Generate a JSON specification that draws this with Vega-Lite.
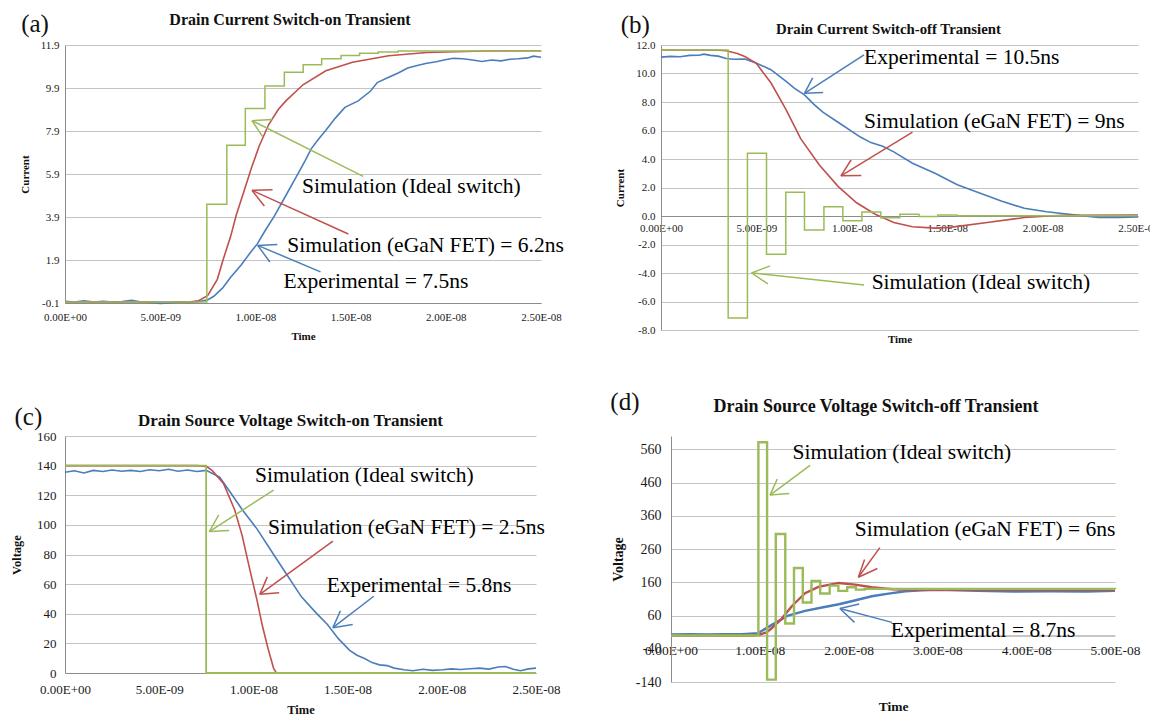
{
"$schema": "https://vega.github.io/schema/vega-lite/v6.json",
"background": "white",
"padding": {"left": 10, "top": 12, "right": 4, "bottom": 4},
"spacing": 46,
"datasets": {
"aL": [
{"s":"Experimental","t":0,"v":-0.02},{"s":"Experimental","t":0.5,"v":-0.05},{"s":"Experimental","t":1,"v":0.0},{"s":"Experimental","t":1.5,"v":-0.06},{"s":"Experimental","t":2,"v":-0.02},{"s":"Experimental","t":2.5,"v":-0.06},{"s":"Experimental","t":3,"v":-0.03},{"s":"Experimental","t":3.5,"v":0.02},{"s":"Experimental","t":4,"v":-0.05},{"s":"Experimental","t":4.5,"v":-0.08},{"s":"Experimental","t":5,"v":-0.12},{"s":"Experimental","t":5.5,"v":-0.1},{"s":"Experimental","t":6,"v":-0.05},{"s":"Experimental","t":6.5,"v":-0.08},{"s":"Experimental","t":7,"v":-0.04},{"s":"Experimental","t":7.5,"v":0.05},{"s":"Experimental","t":7.8,"v":0.2},{"s":"Experimental","t":8.27,"v":0.59},{"s":"Experimental","t":8.7,"v":1.1},{"s":"Experimental","t":9.24,"v":1.66},{"s":"Experimental","t":9.7,"v":2.2},{"s":"Experimental","t":10.1,"v":2.65},{"s":"Experimental","t":10.5,"v":3.25},{"s":"Experimental","t":11.0,"v":3.95},{"s":"Experimental","t":11.6,"v":4.9},{"s":"Experimental","t":12.16,"v":5.79},{"s":"Experimental","t":12.6,"v":6.5},{"s":"Experimental","t":12.94,"v":7.08},{"s":"Experimental","t":13.3,"v":7.5},{"s":"Experimental","t":13.7,"v":7.93},{"s":"Experimental","t":14.2,"v":8.5},{"s":"Experimental","t":14.7,"v":9.0},{"s":"Experimental","t":15.4,"v":9.3},{"s":"Experimental","t":16.05,"v":9.76},{"s":"Experimental","t":16.4,"v":10.15},{"s":"Experimental","t":17.0,"v":10.4},{"s":"Experimental","t":17.5,"v":10.6},{"s":"Experimental","t":18.0,"v":10.83},{"s":"Experimental","t":18.5,"v":10.95},{"s":"Experimental","t":19.0,"v":11.05},{"s":"Experimental","t":19.5,"v":11.12},{"s":"Experimental","t":19.9,"v":11.2},{"s":"Experimental","t":20.4,"v":11.28},{"s":"Experimental","t":20.9,"v":11.26},{"s":"Experimental","t":21.4,"v":11.2},{"s":"Experimental","t":21.9,"v":11.13},{"s":"Experimental","t":22.4,"v":11.2},{"s":"Experimental","t":22.9,"v":11.16},{"s":"Experimental","t":23.4,"v":11.24},{"s":"Experimental","t":23.8,"v":11.26},{"s":"Experimental","t":24.3,"v":11.3},{"s":"Experimental","t":24.6,"v":11.38},{"s":"Experimental","t":25,"v":11.33},
{"s":"eGaN","t":0,"v":-0.05},{"s":"eGaN","t":6.5,"v":-0.05},{"s":"eGaN","t":7.0,"v":0.0},{"s":"eGaN","t":7.5,"v":0.25},{"s":"eGaN","t":8.0,"v":1.0},{"s":"eGaN","t":8.3,"v":1.9},{"s":"eGaN","t":8.7,"v":3.0},{"s":"eGaN","t":9.0,"v":4.0},{"s":"eGaN","t":9.4,"v":5.1},{"s":"eGaN","t":9.8,"v":6.2},{"s":"eGaN","t":10.2,"v":7.2},{"s":"eGaN","t":10.7,"v":8.2},{"s":"eGaN","t":11.2,"v":8.9},{"s":"eGaN","t":11.6,"v":9.3},{"s":"eGaN","t":12.5,"v":10.05},{"s":"eGaN","t":13.7,"v":10.7},{"s":"eGaN","t":15.1,"v":11.1},{"s":"eGaN","t":17,"v":11.4},{"s":"eGaN","t":19,"v":11.55},{"s":"eGaN","t":22,"v":11.62},{"s":"eGaN","t":25,"v":11.63}
],
"aI": [
{"s":"Ideal","t":0,"v":-0.05},{"s":"Ideal","t":7.45,"v":4.49},{"s":"Ideal","t":8.5,"v":7.24},{"s":"Ideal","t":9.47,"v":8.95},{"s":"Ideal","t":10.5,"v":9.99},{"s":"Ideal","t":11.52,"v":10.63},{"s":"Ideal","t":12.51,"v":10.98},{"s":"Ideal","t":13.48,"v":11.26},{"s":"Ideal","t":14.5,"v":11.41},{"s":"Ideal","t":15.47,"v":11.52},{"s":"Ideal","t":16.45,"v":11.58},{"s":"Ideal","t":17.5,"v":11.62},{"s":"Ideal","t":25,"v":11.63}
],
"aR": [
{"s":"Ideal","t":15.66,"v":5.79,"t2":9.82,"v2":8.38},{"s":"Ideal","t":9.82,"v":8.38,"t2":10.9,"v2":8.43},{"s":"Ideal","t":9.82,"v":8.38,"t2":10.37,"v2":7.65},
{"s":"eGaN","t":14.88,"v":3.11,"t2":9.82,"v2":5.14},{"s":"eGaN","t":9.82,"v":5.14,"t2":10.9,"v2":5.17},{"s":"eGaN","t":9.82,"v":5.14,"t2":10.47,"v2":4.41},
{"s":"Experimental","t":13.42,"v":1.35,"t2":10.12,"v2":2.58},{"s":"Experimental","t":10.12,"v":2.58,"t2":11.15,"v2":2.62},{"s":"Experimental","t":10.12,"v":2.58,"t2":10.76,"v2":1.81}
],
"aT": [
{"t":12.45,"v":5.3,"label":"Simulation (Ideal switch)"},{"t":11.67,"v":2.53,"label":"Simulation (eGaN FET) = 6.2ns"},{"t":11.48,"v":0.89,"label":"Experimental = 7.5ns"}
],
"bL": [
{"s":"Experimental","t":0,"v":11.15},{"s":"Experimental","t":0.5,"v":11.2},{"s":"Experimental","t":1.0,"v":11.18},{"s":"Experimental","t":1.5,"v":11.27},{"s":"Experimental","t":2.0,"v":11.28},{"s":"Experimental","t":2.25,"v":11.36},{"s":"Experimental","t":2.6,"v":11.27},{"s":"Experimental","t":3.0,"v":11.22},{"s":"Experimental","t":3.42,"v":11.05},{"s":"Experimental","t":3.8,"v":11.0},{"s":"Experimental","t":4.39,"v":11.02},{"s":"Experimental","t":4.98,"v":10.73},{"s":"Experimental","t":5.76,"v":10.27},{"s":"Experimental","t":6.54,"v":9.46},{"s":"Experimental","t":7.0,"v":8.95},{"s":"Experimental","t":7.52,"v":8.5},{"s":"Experimental","t":8.0,"v":7.85},{"s":"Experimental","t":8.5,"v":7.27},{"s":"Experimental","t":9.28,"v":6.58},{"s":"Experimental","t":10.45,"v":5.54},{"s":"Experimental","t":11.0,"v":5.15},{"s":"Experimental","t":11.62,"v":4.9},{"s":"Experimental","t":12.2,"v":4.5},{"s":"Experimental","t":13.18,"v":3.7},{"s":"Experimental","t":14.36,"v":3.0},{"s":"Experimental","t":15.53,"v":2.2},{"s":"Experimental","t":16.7,"v":1.62},{"s":"Experimental","t":17.87,"v":1.04},{"s":"Experimental","t":19.04,"v":0.54},{"s":"Experimental","t":20.21,"v":0.3},{"s":"Experimental","t":21.39,"v":0.12},{"s":"Experimental","t":22.17,"v":0.0},{"s":"Experimental","t":22.95,"v":-0.11},{"s":"Experimental","t":24.0,"v":-0.1},{"s":"Experimental","t":25,"v":-0.07},
{"s":"eGaN","t":0,"v":11.65},{"s":"eGaN","t":3.0,"v":11.63},{"s":"eGaN","t":3.42,"v":11.6},{"s":"eGaN","t":4.0,"v":11.4},{"s":"eGaN","t":4.39,"v":11.19},{"s":"eGaN","t":4.98,"v":10.73},{"s":"eGaN","t":5.76,"v":9.35},{"s":"eGaN","t":6.54,"v":7.5},{"s":"eGaN","t":7.32,"v":5.43},{"s":"eGaN","t":8.3,"v":3.58},{"s":"eGaN","t":9.28,"v":2.08},{"s":"eGaN","t":10.25,"v":0.93},{"s":"eGaN","t":11.23,"v":0.12},{"s":"eGaN","t":12.2,"v":-0.46},{"s":"eGaN","t":13.18,"v":-0.76},{"s":"eGaN","t":14.36,"v":-0.85},{"s":"eGaN","t":15.14,"v":-0.8},{"s":"eGaN","t":17.1,"v":-0.46},{"s":"eGaN","t":19.04,"v":-0.11},{"s":"eGaN","t":21.0,"v":0.05},{"s":"eGaN","t":25,"v":0.07}
],
"bI": [
{"s":"Ideal","t":0,"v":11.65},{"s":"Ideal","t":3.52,"v":-7.15},{"s":"Ideal","t":4.53,"v":4.4},{"s":"Ideal","t":5.53,"v":-2.69},{"s":"Ideal","t":6.54,"v":1.67},{"s":"Ideal","t":7.52,"v":-0.99},{"s":"Ideal","t":8.54,"v":0.65},{"s":"Ideal","t":9.53,"v":-0.34},{"s":"Ideal","t":10.53,"v":0.28},{"s":"Ideal","t":11.52,"v":-0.13},{"s":"Ideal","t":12.52,"v":0.12},{"s":"Ideal","t":13.52,"v":-0.04},{"s":"Ideal","t":14.51,"v":0.07},{"s":"Ideal","t":15.5,"v":0.02},{"s":"Ideal","t":25,"v":0.02}
],
"bR": [
{"s":"Experimental","t":10.64,"v":11.31,"t2":7.52,"v2":8.61},{"s":"Experimental","t":7.52,"v":8.61,"t2":8.5,"v2":8.66},{"s":"Experimental","t":7.52,"v":8.61,"t2":7.95,"v2":9.69},
{"s":"eGaN","t":13.18,"v":5.89,"t2":9.43,"v2":2.82},{"s":"eGaN","t":9.43,"v":2.82,"t2":10.5,"v2":2.84},{"s":"eGaN","t":9.43,"v":2.82,"t2":9.96,"v2":3.93},
{"s":"Ideal","t":10.64,"v":-4.84,"t2":4.75,"v2":-3.99},{"s":"Ideal","t":4.75,"v":-3.99,"t2":5.72,"v2":-3.5},{"s":"Ideal","t":4.75,"v":-3.99,"t2":5.6,"v2":-4.77}
],
"bT": [
{"t":10.64,"v":11.08,"label":"Experimental = 10.5ns"},{"t":10.64,"v":6.62,"label":"Simulation (eGaN FET) = 9ns"},{"t":11.04,"v":-4.72,"label":"Simulation (Ideal switch)"}
],
"cL": [
{"s":"Experimental","t":0,"v":135.5},{"s":"Experimental","t":0.5,"v":136.5},{"s":"Experimental","t":1,"v":135},{"s":"Experimental","t":1.5,"v":136.8},{"s":"Experimental","t":2,"v":136},{"s":"Experimental","t":2.5,"v":137},{"s":"Experimental","t":3,"v":136.2},{"s":"Experimental","t":3.5,"v":136.8},{"s":"Experimental","t":4,"v":136},{"s":"Experimental","t":4.5,"v":137.2},{"s":"Experimental","t":5,"v":136.5},{"s":"Experimental","t":5.5,"v":137.5},{"s":"Experimental","t":6,"v":136.2},{"s":"Experimental","t":6.5,"v":137},{"s":"Experimental","t":7,"v":136},{"s":"Experimental","t":7.5,"v":136.8},{"s":"Experimental","t":8.21,"v":132.2},{"s":"Experimental","t":8.81,"v":121.3},{"s":"Experimental","t":9.4,"v":110.4},{"s":"Experimental","t":10.19,"v":97.3},{"s":"Experimental","t":10.97,"v":82},{"s":"Experimental","t":11.76,"v":66.7},{"s":"Experimental","t":12.55,"v":51.4},{"s":"Experimental","t":13.34,"v":40.4},{"s":"Experimental","t":13.93,"v":32.8},{"s":"Experimental","t":14.52,"v":23},{"s":"Experimental","t":15.11,"v":15.3},{"s":"Experimental","t":15.5,"v":12},{"s":"Experimental","t":15.9,"v":9.8},{"s":"Experimental","t":16.3,"v":7},{"s":"Experimental","t":16.69,"v":5.5},{"s":"Experimental","t":17.1,"v":5},{"s":"Experimental","t":17.47,"v":3.3},{"s":"Experimental","t":18.0,"v":2.2},{"s":"Experimental","t":18.46,"v":1.5},{"s":"Experimental","t":19.0,"v":2.5},{"s":"Experimental","t":19.5,"v":1.8},{"s":"Experimental","t":20.04,"v":2.2},{"s":"Experimental","t":20.5,"v":2.8},{"s":"Experimental","t":21,"v":2.4},{"s":"Experimental","t":21.5,"v":2.9},{"s":"Experimental","t":22.0,"v":3.3},{"s":"Experimental","t":22.5,"v":2.6},{"s":"Experimental","t":23.0,"v":4.0},{"s":"Experimental","t":23.38,"v":4.4},{"s":"Experimental","t":23.8,"v":2.5},{"s":"Experimental","t":24.17,"v":1.5},{"s":"Experimental","t":24.6,"v":2.8},{"s":"Experimental","t":25,"v":3.3},
{"s":"eGaN","t":0,"v":140},{"s":"eGaN","t":7.0,"v":140},{"s":"eGaN","t":7.5,"v":139.5},{"s":"eGaN","t":7.82,"v":136.6},{"s":"eGaN","t":8.41,"v":127.9},{"s":"eGaN","t":9.0,"v":110.4},{"s":"eGaN","t":9.4,"v":92.9},{"s":"eGaN","t":9.79,"v":71},{"s":"eGaN","t":10.19,"v":49.2},{"s":"eGaN","t":10.48,"v":31.7},{"s":"eGaN","t":10.78,"v":16.4},{"s":"eGaN","t":11.07,"v":3.3},{"s":"eGaN","t":11.21,"v":0.3},{"s":"eGaN","t":11.5,"v":0},{"s":"eGaN","t":25,"v":0}
],
"cI": [
{"s":"Ideal","t":0,"v":140},{"s":"Ideal","t":7.49,"v":0},{"s":"Ideal","t":25,"v":0}
],
"cR": [
{"s":"Ideal","t":11.07,"v":123.5,"t2":7.66,"v2":95.5},{"s":"Ideal","t":7.66,"v":95.5,"t2":8.71,"v2":96.2},{"s":"Ideal","t":7.66,"v":95.5,"t2":8.16,"v2":106.7},
{"s":"eGaN","t":14.22,"v":89,"t2":10.34,"v2":53.1},{"s":"eGaN","t":10.34,"v":53.1,"t2":11.37,"v2":54.2},{"s":"eGaN","t":10.34,"v":53.1,"t2":10.74,"v2":64.9},
{"s":"Experimental","t":16.39,"v":51.8,"t2":14.22,"v2":30.6},{"s":"Experimental","t":14.22,"v":30.6,"t2":15.27,"v2":32.8},{"s":"Experimental","t":14.22,"v":30.6,"t2":14.62,"v2":42}
],
"cT": [
{"t":10.09,"v":132.7,"label":"Simulation (Ideal switch)"},{"t":10.78,"v":97.7,"label":"Simulation (eGaN FET) = 2.5ns"},{"t":13.89,"v":59,"label":"Experimental = 5.8ns"}
],
"dL": [
{"s":"Experimental","t":0,"v":3},{"s":"Experimental","t":2,"v":4},{"s":"Experimental","t":4,"v":3},{"s":"Experimental","t":6,"v":4},{"s":"Experimental","t":8,"v":4},{"s":"Experimental","t":9.8,"v":7},{"s":"Experimental","t":11.3,"v":31},{"s":"Experimental","t":13.2,"v":60},{"s":"Experimental","t":15.1,"v":74},{"s":"Experimental","t":17.0,"v":84},{"s":"Experimental","t":18.9,"v":94},{"s":"Experimental","t":20.8,"v":106},{"s":"Experimental","t":22.6,"v":118},{"s":"Experimental","t":24.5,"v":126},{"s":"Experimental","t":26.4,"v":133},{"s":"Experimental","t":28.3,"v":136},{"s":"Experimental","t":30.2,"v":137},{"s":"Experimental","t":34.5,"v":134},{"s":"Experimental","t":38.6,"v":132},{"s":"Experimental","t":42.7,"v":133},{"s":"Experimental","t":46.8,"v":132},{"s":"Experimental","t":50,"v":134},
{"s":"eGaN","t":0,"v":0},{"s":"eGaN","t":9.1,"v":0},{"s":"eGaN","t":10.0,"v":3},{"s":"eGaN","t":10.74,"v":9},{"s":"eGaN","t":11.3,"v":21},{"s":"eGaN","t":12.45,"v":50},{"s":"eGaN","t":13.6,"v":88},{"s":"eGaN","t":15.1,"v":127},{"s":"eGaN","t":16.6,"v":146},{"s":"eGaN","t":18.9,"v":158},{"s":"eGaN","t":20.75,"v":153},{"s":"eGaN","t":22.6,"v":145},{"s":"eGaN","t":24.9,"v":139},{"s":"eGaN","t":27,"v":137},{"s":"eGaN","t":50,"v":137}
],
"dI": [
{"s":"Ideal","t":0,"v":0},{"s":"Ideal","t":9.84,"v":581},{"s":"Ideal","t":10.82,"v":-133},{"s":"Ideal","t":11.8,"v":305},{"s":"Ideal","t":12.87,"v":36},{"s":"Ideal","t":13.85,"v":203},{"s":"Ideal","t":14.84,"v":99},{"s":"Ideal","t":15.82,"v":164},{"s":"Ideal","t":16.8,"v":126},{"s":"Ideal","t":17.87,"v":150},{"s":"Ideal","t":18.85,"v":134},{"s":"Ideal","t":19.84,"v":145},{"s":"Ideal","t":20.82,"v":138},{"s":"Ideal","t":21.8,"v":140},{"s":"Ideal","t":50,"v":139}
],
"dR": [
{"s":"Ideal","t":15.66,"v":511.5,"t2":11.15,"v2":422.3},{"s":"Ideal","t":11.15,"v":422.3,"t2":13.32,"v2":427},{"s":"Ideal","t":11.15,"v":422.3,"t2":11.97,"v2":470.8},
{"s":"eGaN","t":23.52,"v":264.3,"t2":21.1,"v2":175},{"s":"eGaN","t":21.1,"v":175,"t2":23.24,"v2":201.3},{"s":"eGaN","t":21.1,"v":175,"t2":21.8,"v2":228.4},
{"s":"Experimental","t":24.88,"v":39.4,"t2":19.02,"v2":81},{"s":"Experimental","t":19.02,"v":81,"t2":21.19,"v2":94.6},{"s":"Experimental","t":19.02,"v":81,"t2":20.66,"v2":39.4}
],
"dT": [
{"t":13.69,"v":550,"label":"Simulation (Ideal switch)"},{"t":20.7,"v":317.6,"label":"Simulation (eGaN FET) = 6ns"},{"t":24.75,"v":12,"label":"Experimental = 8.7ns"}
]
},
"vconcat": [
{"hconcat": [
{"title": {"text": "(a)", "anchor": "start", "fontSize": 25, "fontWeight": "normal", "offset": -25, "dx": 2},
 "vconcat": [{
  "width": 476, "height": 258,
  "title": {"text": "Drain Current Switch-on Transient", "fontSize": 16, "offset": 11, "dx": -13},
  "layer": [
   {"data": {"name": "aL"}, "mark": {"type": "line", "strokeWidth": 1.6},
    "encoding": {
     "x": {"field": "t", "type": "quantitative", "title": "Time", "scale": {"domain": [0, 25], "nice": false},
           "axis": {"values": [0,5,10,15,20,25], "tickCount": 20, "labelExpr": "datum.value == 0 ? '0.00E+00' : datum.value < 10 ? format(datum.value, '.2f') + 'E-09' : format(datum.value / 10, '.2f') + 'E-08'", "labelFontSize": 11, "titleFontSize": 11, "labelPadding": 8, "titlePadding": 8}},
     "y": {"field": "v", "type": "quantitative", "title": "Current", "scale": {"domain": [-0.1, 11.9], "nice": false, "zero": false},
           "axis": {"values": [-0.1,1.9,3.9,5.9,7.9,9.9,11.9], "tickCount": 20, "labelExpr": "(datum.value < 0 ? '-' : '') + format(abs(datum.value), '.1f')", "labelFontSize": 11, "titleFontSize": 11, "labelPadding": 6, "titlePadding": 10}},
     "color": {"field": "s", "type": "nominal", "scale": {"domain": ["Experimental","eGaN","Ideal"], "range": ["#4a7ebb","#c0504d","#9bbb59"]}, "legend": null}}},
   {"data": {"name": "aI"}, "mark": {"type": "line", "interpolate": "step-after", "strokeWidth": 1.5},
    "encoding": {"x": {"field": "t", "type": "quantitative"}, "y": {"field": "v", "type": "quantitative"}, "color": {"field": "s", "type": "nominal", "legend": null}}},
   {"data": {"name": "aR"}, "mark": {"type": "rule", "strokeWidth": 1.5},
    "encoding": {"x": {"field": "t", "type": "quantitative"}, "y": {"field": "v", "type": "quantitative"}, "x2": {"field": "t2"}, "y2": {"field": "v2"}, "color": {"field": "s", "type": "nominal", "legend": null}}},
   {"data": {"name": "aT"}, "mark": {"type": "text", "align": "left", "baseline": "middle", "fontSize": 21.5, "color": "#000"},
    "encoding": {"x": {"field": "t", "type": "quantitative"}, "y": {"field": "v", "type": "quantitative"}, "text": {"field": "label"}}}
  ]}]
},
{"title": {"text": "(b)", "anchor": "start", "fontSize": 25, "fontWeight": "normal", "offset": -16, "dx": 6},
 "vconcat": [{
  "width": 477, "height": 285,
  "title": {"text": "Drain Current Switch-off Transient", "fontSize": 14.8, "offset": 2, "dx": -11},
  "layer": [
   {"data": {"name": "bL"}, "mark": {"type": "line", "strokeWidth": 1.6},
    "encoding": {
     "x": {"field": "t", "type": "quantitative", "title": "Time", "scale": {"domain": [0, 25], "nice": false},
           "axis": {"values": [0,5,10,15,20,25], "tickCount": 20, "labelExpr": "datum.value == 0 ? '0.00E+00' : datum.value < 10 ? format(datum.value, '.2f') + 'E-09' : format(datum.value / 10, '.2f') + 'E-08'", "labelFontSize": 11, "titleFontSize": 11, "labelPadding": 6, "offset": -114, "titlePadding": 100}},
     "y": {"field": "v", "type": "quantitative", "title": "Current", "scale": {"domain": [-8, 12], "nice": false, "zero": false},
           "axis": {"values": [-8,-6,-4,-2,0,2,4,6,8,10,12], "tickCount": 20, "labelExpr": "(datum.value < 0 ? '-' : '') + format(abs(datum.value), '.1f')", "labelFontSize": 11, "titleFontSize": 11, "labelPadding": 6, "titlePadding": 10}},
     "color": {"field": "s", "type": "nominal", "scale": {"domain": ["Experimental","eGaN","Ideal"], "range": ["#4a7ebb","#c0504d","#9bbb59"]}, "legend": null}}},
   {"data": {"name": "bI"}, "mark": {"type": "line", "interpolate": "step-after", "strokeWidth": 1.5},
    "encoding": {"x": {"field": "t", "type": "quantitative"}, "y": {"field": "v", "type": "quantitative"}, "color": {"field": "s", "type": "nominal", "legend": null}}},
   {"data": {"name": "bR"}, "mark": {"type": "rule", "strokeWidth": 1.5},
    "encoding": {"x": {"field": "t", "type": "quantitative"}, "y": {"field": "v", "type": "quantitative"}, "x2": {"field": "t2"}, "y2": {"field": "v2"}, "color": {"field": "s", "type": "nominal", "legend": null}}},
   {"data": {"name": "bT"}, "mark": {"type": "text", "align": "left", "baseline": "middle", "fontSize": 21.5, "color": "#000"},
    "encoding": {"x": {"field": "t", "type": "quantitative"}, "y": {"field": "v", "type": "quantitative"}, "text": {"field": "label"}}}
  ]}]
}
], "spacing": 50},
{"hconcat": [
{"title": {"text": "(c)", "anchor": "start", "fontSize": 25, "fontWeight": "normal", "offset": -18, "dx": 4},
 "vconcat": [{
  "width": 471, "height": 237,
  "title": {"text": "Drain Source Voltage Switch-on Transient", "fontSize": 17, "offset": 0, "dx": -10},
  "layer": [
   {"data": {"name": "cL"}, "mark": {"type": "line", "strokeWidth": 1.6},
    "encoding": {
     "x": {"field": "t", "type": "quantitative", "title": "Time", "scale": {"domain": [0, 25], "nice": false},
           "axis": {"values": [0,5,10,15,20,25], "tickCount": 20, "labelExpr": "datum.value == 0 ? '0.00E+00' : datum.value < 10 ? format(datum.value, '.2f') + 'E-09' : format(datum.value / 10, '.2f') + 'E-08'", "labelFontSize": 13, "titleFontSize": 12.5, "labelPadding": 10, "titlePadding": 7}},
     "y": {"field": "v", "type": "quantitative", "title": "Voltage", "scale": {"domain": [0, 160], "nice": false},
           "axis": {"values": [0,20,40,60,80,100,120,140,160], "tickCount": 20, "labelFontSize": 13, "titleFontSize": 12.5, "labelPadding": 9, "titlePadding": 13}},
     "color": {"field": "s", "type": "nominal", "scale": {"domain": ["Experimental","eGaN","Ideal"], "range": ["#4a7ebb","#c0504d","#9bbb59"]}, "legend": null}}},
   {"data": {"name": "cI"}, "mark": {"type": "line", "interpolate": "step-after", "strokeWidth": 1.8},
    "encoding": {"x": {"field": "t", "type": "quantitative"}, "y": {"field": "v", "type": "quantitative"}, "color": {"field": "s", "type": "nominal", "legend": null}}},
   {"data": {"name": "cR"}, "mark": {"type": "rule", "strokeWidth": 1.5},
    "encoding": {"x": {"field": "t", "type": "quantitative"}, "y": {"field": "v", "type": "quantitative"}, "x2": {"field": "t2"}, "y2": {"field": "v2"}, "color": {"field": "s", "type": "nominal", "legend": null}}},
   {"data": {"name": "cT"}, "mark": {"type": "text", "align": "left", "baseline": "middle", "fontSize": 21.5, "color": "#000"},
    "encoding": {"x": {"field": "t", "type": "quantitative"}, "y": {"field": "v", "type": "quantitative"}, "text": {"field": "label"}}}
  ]}]
},
{"title": {"text": "(d)", "anchor": "start", "fontSize": 25, "fontWeight": "normal", "offset": -17, "dx": -1},
 "vconcat": [{
  "width": 444, "height": 246,
  "title": {"text": "Drain Source Voltage Switch-off Transient", "fontSize": 18, "offset": 20, "dx": -17},
  "layer": [
   {"data": {"name": "dL"}, "mark": {"type": "line", "strokeWidth": 2.4},
    "encoding": {
     "x": {"field": "t", "type": "quantitative", "title": "Time", "scale": {"domain": [0, 50], "nice": false},
           "axis": {"values": [0,10,20,30,40,50], "tickCount": 20, "labelExpr": "datum.value == 0 ? '0.00E+00' : datum.value < 10 ? format(datum.value, '.2f') + 'E-09' : format(datum.value / 10, '.2f') + 'E-08'", "labelFontSize": 13.5, "titleFontSize": 13.5, "labelPadding": 8, "offset": -46.5, "titlePadding": 42}},
     "y": {"field": "v", "type": "quantitative", "title": "Voltage", "scale": {"domain": [-140, 600], "nice": false, "zero": false},
           "axis": {"values": [-140,-40,60,160,260,360,460,560], "tickCount": 20, "labelExpr": "(datum.value < 0 ? '-' : '') + abs(datum.value)", "labelFontSize": 14, "titleFontSize": 14, "labelPadding": 10, "titlePadding": 10}},
     "color": {"field": "s", "type": "nominal", "scale": {"domain": ["Experimental","eGaN","Ideal"], "range": ["#4a7ebb","#c0504d","#9bbb59"]}, "legend": null}}},
   {"data": {"name": "dI"}, "mark": {"type": "line", "interpolate": "step-after", "strokeWidth": 2.4},
    "encoding": {"x": {"field": "t", "type": "quantitative"}, "y": {"field": "v", "type": "quantitative"}, "color": {"field": "s", "type": "nominal", "legend": null}}},
   {"data": {"name": "dR"}, "mark": {"type": "rule", "strokeWidth": 1.5},
    "encoding": {"x": {"field": "t", "type": "quantitative"}, "y": {"field": "v", "type": "quantitative"}, "x2": {"field": "t2"}, "y2": {"field": "v2"}, "color": {"field": "s", "type": "nominal", "legend": null}}},
   {"data": {"name": "dT"}, "mark": {"type": "text", "align": "left", "baseline": "middle", "fontSize": 21.5, "color": "#000"},
    "encoding": {"x": {"field": "t", "type": "quantitative"}, "y": {"field": "v", "type": "quantitative"}, "text": {"field": "label"}}}
  ]}]
}
], "spacing": 49}
],
"config": {
 "view": {"stroke": null},
 "font": "Liberation Serif, Times New Roman, DejaVu Serif, serif",
 "text": {"font": "Liberation Serif, Times New Roman, DejaVu Serif, serif"},
 "axis": {"domainColor": "#8c8c8c", "gridColor": "#c4c4c4", "ticks": false, "labelOverlap": false, "labelFlush": false, "labelFont": "Liberation Serif, Times New Roman, DejaVu Serif, serif", "labelColor": "#1a1a1a", "titleFont": "Liberation Serif, Times New Roman, DejaVu Serif, serif", "titleFontWeight": "bold", "titleColor": "#111"},
 "axisX": {"grid": false},
 "title": {"font": "Liberation Serif, Times New Roman, DejaVu Serif, serif", "fontWeight": "bold", "color": "#111"}
}
}
